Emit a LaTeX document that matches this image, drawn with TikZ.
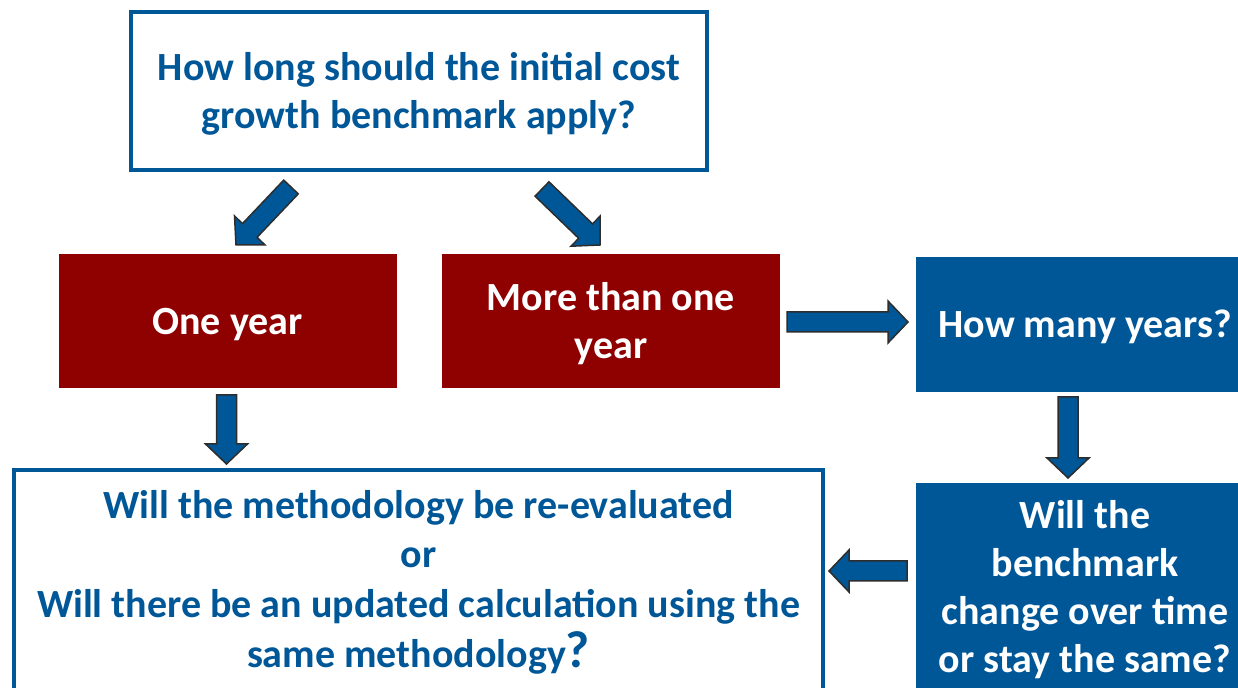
\documentclass[tikz,border=0pt]{standalone}
\usepackage{fontspec}
\setmainfont{Carlito}
\usetikzlibrary{calc}

\definecolor{flowblue}{RGB}{0,87,152}
\definecolor{flowred}{RGB}{143,0,0}
\definecolor{arrowedge}{RGB}{45,45,45}

% block arrow from #1 (tail) to #2 (tip)
\newcommand{\blockarrow}[2]{%
  \coordinate (#1-#2) at ($(#2)!10pt!(#1)$);
  \draw[arrow shape] ($(#1)!5pt!90:(#2)$) -- ($(#1-#2)!5pt!90:(#2)$)
    -- ($(#1-#2)!10.5pt!90:(#2)$) -- (#2) -- ($(#1-#2)!10.5pt!-90:(#2)$)
    -- ($(#1-#2)!5pt!-90:(#2)$) -- ($(#1)!5pt!-90:(#2)$) -- cycle;
}
% box text set a little below the middle
\newcommand{\lowtext}[1]{\raisebox{-1.8pt}[\height][\depth]{\begin{tabular}{@{}c@{}}#1\end{tabular}}}

\begin{document}
\begin{tikzpicture}[
    x=0.5pt, y=-0.5pt,
    every node/.style={align=center, font=\fontsize{20}{24}\selectfont\bfseries, inner sep=0pt},
    outlinebox/.style={draw=flowblue, line width=2.2pt, fill=white, text=flowblue},
    redbox/.style={fill=flowred, text=white, minimum width=169pt, minimum height=67pt},
    bluebox/.style={fill=flowblue, text=white, minimum width=169pt},
    arrow shape/.style={fill=flowblue, draw=arrowedge, line width=0.75pt, line join=miter}
  ]
  \useasboundingbox (0,0) rectangle (1238,688);
  \clip (0,0) rectangle (1238,688);

  \node[outlinebox, minimum width=288pt, minimum height=79pt] (howlong) at (419,91)
    {\lowtext{How long should the initial cost\\growth benchmark apply?}};
  \node[redbox] (oneyear) at (227.5,321) {\lowtext{One year}};
  \node[redbox] (morethan) at (611,321) {\lowtext{More than one\\year}};
  \node[bluebox, minimum height=67.5pt] (howmany) at (1085,324.5) {\lowtext{How many years?}};
  \node[bluebox, minimum height=107pt] (change) at (1085,590)
    {Will the\\benchmark\\change over time\\or stay the same?};
  \node[outlinebox, minimum width=404.5pt, minimum height=112pt,
        font=\fontsize{20}{24.8}\selectfont\bfseries] (method) at (418.5,582)
    {Will the methodology be re-evaluated\\or\\Will there be an updated calculation using the\\same methodology{\fontsize{26}{24}\selectfont?}};

  \coordinate (a1s) at (291,187);
  \coordinate (a1e) at (236,245);
  \coordinate (a2s) at (542,189);
  \coordinate (a2e) at (600,245);
  \coordinate (a3s) at (787,322);
  \coordinate (a3e) at (908,322);
  \coordinate (a4s) at (226.5,395);
  \coordinate (a4e) at (226.5,464);
  \coordinate (a5s) at (1068,397);
  \coordinate (a5e) at (1068,478);
  \coordinate (a6s) at (907,571);
  \coordinate (a6e) at (829,571);

  \blockarrow{a1s}{a1e}
  \blockarrow{a2s}{a2e}
  \blockarrow{a3s}{a3e}
  \blockarrow{a4s}{a4e}
  \blockarrow{a5s}{a5e}
  \blockarrow{a6s}{a6e}
\end{tikzpicture}
\end{document}
